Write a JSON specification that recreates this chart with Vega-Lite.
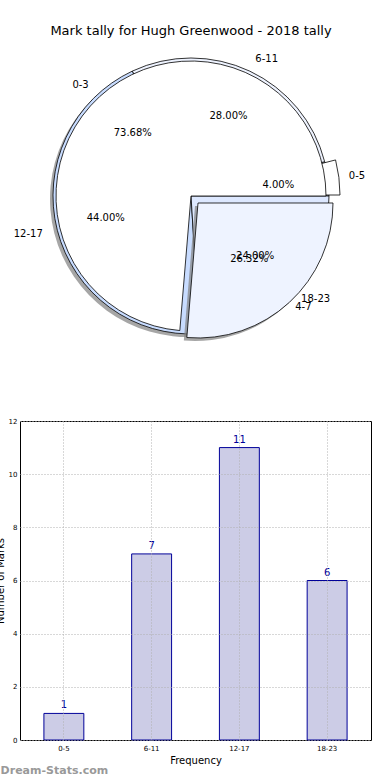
{
  "$schema": "https://vega.github.io/schema/vega-lite/v6.json",
  "padding": {"left": -6, "top": 25, "right": 0, "bottom": 0},
  "config": {"font": "DejaVu Sans", "view": {"stroke": null}},
  "datasets": {
    "pieA": [
      {"k": 0, "cat": "0-3", "frac": 0.7368},
      {"k": 1, "cat": "4-7", "frac": 0.2632}
    ],
    "pieB": [
      {"k": 0, "cat": "0-5", "frac": 0.04},
      {"k": 1, "cat": "6-11", "frac": 0.28},
      {"k": 2, "cat": "12-17", "frac": 0.44},
      {"k": 3, "cat": "18-23", "frac": 0.24}
    ],
    "bars": [
      {"range": "0-5", "count": 1},
      {"range": "6-11", "count": 7},
      {"range": "12-17", "count": 11},
      {"range": "18-23", "count": 6}
    ]
  },
  "title": {"text": "Dream-Stats.com", "orient": "bottom", "anchor": "start", "color": "#999999", "fontSize": 11, "fontWeight": "bold", "dx": 6, "offset": -1},
  "spacing": 64,
  "vconcat": [
    {
      "width": 342,
      "height": 312,
      "title": {"text": "Mark tally for Hugh Greenwood - 2018 tally", "fontSize": 13, "fontWeight": "normal", "color": "#000000", "offset": 2},
      "layer": [
        {
          "data": {"name": "pieB"},
          "mark": {"type": "arc", "radius": 138, "fill": "#808080", "opacity": 0.7, "xOffset": -3, "yOffset": 3},
          "encoding": {
            "theta": {"field": "frac", "type": "quantitative", "stack": true, "scale": {"domain": [0, 1], "range": [1.5708, -4.7124]}},
            "order": {"field": "k"}
          }
        },
        {
          "data": {"name": "pieB"},
          "mark": {"type": "arc", "radius": 138, "stroke": "#000000", "strokeWidth": 0.8},
          "encoding": {
            "theta": {"field": "frac", "type": "quantitative", "stack": true, "scale": {"domain": [0, 1], "range": [1.5708, -4.7124]}},
            "order": {"field": "k"},
            "color": {"field": "cat", "type": "nominal", "legend": null, "scale": {"domain": ["0-3", "4-7", "0-5", "6-11", "12-17", "18-23"], "range": ["#ffffff", "#eef3ff", "#ffffff", "#eef3ff", "#c8dcff", "#dde8ff"]}}
          }
        },
        {
          "data": {"name": "pieB"},
          "transform": [
            {"stack": "frac", "groupby": [], "sort": [{"field": "k"}], "as": ["t0", "t1"]},
            {"filter": "datum.cat == '0-5'"}
          ],
          "mark": {"type": "arc", "radius": 141, "fill": "#ffffff", "stroke": "#000000", "strokeWidth": 0.8, "xOffset": 8, "yOffset": -1},
          "encoding": {
            "theta": {"field": "t0", "type": "quantitative", "scale": {"domain": [0, 1], "range": [1.5708, -4.7124]}},
            "theta2": {"field": "t1"}
          }
        },
        {
          "data": {"name": "pieA"},
          "transform": [
            {"stack": "frac", "groupby": [], "sort": [{"field": "k"}], "as": ["t0", "t1"]},
            {"filter": "datum.cat == '4-7'"}
          ],
          "mark": {"type": "arc", "radius": 135, "fill": "#808080", "opacity": 0.7, "xOffset": 4, "yOffset": 10},
          "encoding": {
            "theta": {"field": "t0", "type": "quantitative", "scale": {"domain": [0, 1], "range": [1.5708, -4.7124]}},
            "theta2": {"field": "t1"}
          }
        },
        {
          "data": {"name": "pieA"},
          "transform": [
            {"stack": "frac", "groupby": [], "sort": [{"field": "k"}], "as": ["t0", "t1"]},
            {"filter": "datum.cat == '0-3'"}
          ],
          "mark": {"type": "arc", "radius": 135, "fill": "#ffffff", "stroke": "#000000", "strokeWidth": 0.8},
          "encoding": {
            "theta": {"field": "t0", "type": "quantitative", "scale": {"domain": [0, 1], "range": [1.5708, -4.7124]}},
            "theta2": {"field": "t1"}
          }
        },
        {
          "data": {"name": "pieA"},
          "transform": [
            {"stack": "frac", "groupby": [], "sort": [{"field": "k"}], "as": ["t0", "t1"]},
            {"filter": "datum.cat == '4-7'"}
          ],
          "mark": {"type": "arc", "radius": 135, "fill": "#eef3ff", "stroke": "#000000", "strokeWidth": 0.8, "xOffset": 7, "yOffset": 7},
          "encoding": {
            "theta": {"field": "t0", "type": "quantitative", "scale": {"domain": [0, 1], "range": [1.5708, -4.7124]}},
            "theta2": {"field": "t1"}
          }
        },
        {
          "data": {"name": "pieB"},
          "mark": {"type": "text", "radius": 151, "fontSize": 10, "color": "#000000", "align": "left", "baseline": "middle"},
          "encoding": {
            "theta": {"field": "frac", "type": "quantitative", "stack": true, "scale": {"domain": [0, 1], "range": [1.5708, -4.7124]}},
            "order": {"field": "k"},
            "text": {"condition": {"test": "datum.cat == '6-11' || datum.cat == '18-23'", "field": "cat"}, "value": ""}
          }
        },
        {
          "data": {"name": "pieB"},
          "mark": {"type": "text", "radius": 151, "fontSize": 10, "color": "#000000", "align": "left", "baseline": "middle", "dx": 8, "dy": -1},
          "encoding": {
            "theta": {"field": "frac", "type": "quantitative", "stack": true, "scale": {"domain": [0, 1], "range": [1.5708, -4.7124]}},
            "order": {"field": "k"},
            "text": {"condition": {"test": "datum.cat == '0-5'", "field": "cat"}, "value": ""}
          }
        },
        {
          "data": {"name": "pieB"},
          "mark": {"type": "text", "radius": 153, "fontSize": 10, "color": "#000000", "align": "right", "baseline": "middle"},
          "encoding": {
            "theta": {"field": "frac", "type": "quantitative", "stack": true, "scale": {"domain": [0, 1], "range": [1.5708, -4.7124]}},
            "order": {"field": "k"},
            "text": {"condition": {"test": "datum.cat == '12-17'", "field": "cat"}, "value": ""}
          }
        },
        {
          "data": {"name": "pieB"},
          "mark": {"type": "text", "radius": 88, "fontSize": 10, "color": "#000000"},
          "encoding": {
            "theta": {"field": "frac", "type": "quantitative", "stack": true, "scale": {"domain": [0, 1], "range": [1.5708, -4.7124]}},
            "order": {"field": "k"},
            "text": {"field": "frac", "format": ".2%"}
          }
        },
        {
          "data": {"name": "pieA"},
          "mark": {"type": "text", "radius": 151, "fontSize": 10, "color": "#000000", "align": "right", "baseline": "middle"},
          "encoding": {
            "theta": {"field": "frac", "type": "quantitative", "stack": true, "scale": {"domain": [0, 1], "range": [1.5708, -4.7124]}},
            "order": {"field": "k"},
            "text": {"condition": {"test": "datum.cat == '0-3'", "field": "cat"}, "value": ""}
          }
        },
        {
          "data": {"name": "pieA"},
          "mark": {"type": "text", "radius": 151, "fontSize": 10, "color": "#000000", "align": "left", "baseline": "middle", "dx": 2, "dy": 0},
          "encoding": {
            "theta": {"field": "frac", "type": "quantitative", "stack": true, "scale": {"domain": [0, 1], "range": [1.5708, -4.7124]}},
            "order": {"field": "k"},
            "text": {"condition": {"test": "datum.cat == '4-7'", "field": "cat"}, "value": ""}
          }
        },
        {
          "data": {"name": "pieA"},
          "mark": {"type": "text", "radius": 86, "fontSize": 10, "color": "#000000"},
          "encoding": {
            "theta": {"field": "frac", "type": "quantitative", "stack": true, "scale": {"domain": [0, 1], "range": [1.5708, -4.7124]}},
            "order": {"field": "k"},
            "text": {"field": "frac", "format": ".2%"}
          }
        }
      ]
    },
    {
      "width": 351,
      "height": 319,
      "view": {"stroke": "#000000", "strokeWidth": 1},
      "data": {"name": "bars"},
      "encoding": {
        "x": {
          "field": "range", "type": "nominal", "sort": null,
          "scale": {"paddingInner": 0, "paddingOuter": 0},
          "axis": {"title": "Frequency", "labelAngle": 0, "labelFontSize": 7, "titleFontSize": 10, "titleFontWeight": "normal", "titleColor": "#000000", "labelColor": "#000000", "grid": true, "gridDash": [1, 2], "gridColor": "#b0b0b0", "bandPosition": 0.5, "ticks": false, "domain": false, "labelPadding": 4, "titlePadding": 4, "zindex": 1}
        },
        "y": {
          "field": "count", "type": "quantitative",
          "scale": {"domain": [0, 12], "nice": false},
          "axis": {"title": "Number of Marks", "values": [0, 2, 4, 6, 8, 10, 12], "labelFontSize": 7, "titleFontSize": 10, "titleFontWeight": "normal", "titleColor": "#000000", "labelColor": "#000000", "grid": true, "gridDash": [1, 2], "gridColor": "#b0b0b0", "ticks": false, "domain": false, "labelPadding": 3, "titlePadding": 3, "zindex": 1}
        }
      },
      "layer": [
        {"mark": {"type": "bar", "width": {"band": 0.455}, "fill": "#cccce6", "stroke": "#000099", "strokeWidth": 1}},
        {"mark": {"type": "text", "dy": -3, "baseline": "bottom", "color": "#000099", "fontSize": 10}, "encoding": {"text": {"field": "count"}}}
      ]
    }
  ]
}
